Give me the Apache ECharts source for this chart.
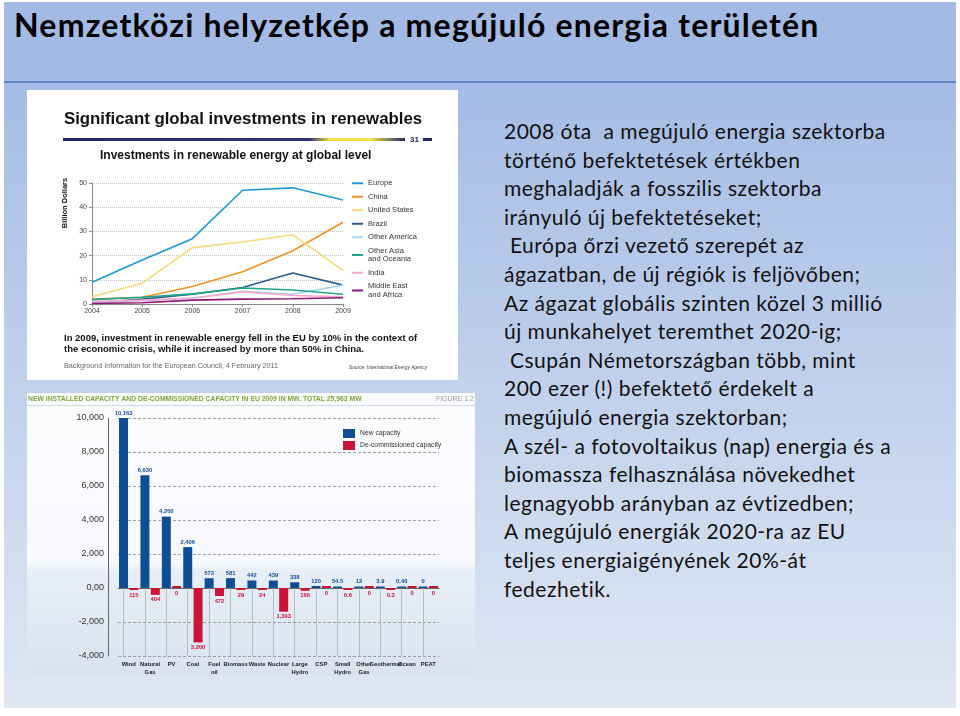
<!DOCTYPE html>
<html lang="hu">
<head>
<meta charset="UTF-8"/>
<script src="https://cdn.jsdelivr.net/npm/echarts@6/dist/echarts.min.js"></script>
<style>
    body { margin: 0; width: 960px; height: 716px; background: #ffffff; position: relative; overflow: hidden; }
    #slide { position: absolute; left: 4px; top: 2px; width: 952px; height: 706px;
        background: linear-gradient(to bottom, #a3bae4 0px, #a3bae4 79px, #6687c8 79px, #6687c8 81px, #a5bce5 81px, #dfe7f3 100%); }
    #title { position: absolute; left: 14px; top: 5px; font-family: Lato, sans-serif; font-weight: bold;
        font-size: 32px; letter-spacing: 1.2px; color: #000; white-space: nowrap; }
    #notes { position: absolute; left: 504px; top: 117px; font-family: Lato, sans-serif; font-size: 21px;
        letter-spacing: 0.5px; line-height: 28.6px; color: #111; white-space: pre; }
    #invest { position: absolute; left: 27px; top: 90px; width: 431px; height: 290px; background: #fff; }
    #capacity { position: absolute; left: 27px; top: 393px; width: 448px; height: 283px; }
</style>
</head>
<body>
<div id="slide"></div>
<div id="title">Nemzetközi helyzetkép a megújuló energia területén</div>
<div id="notes">2008 óta  a megújuló energia szektorba
történő befektetések értékben
meghaladják a fosszilis szektorba
irányuló új befektetéseket;
 Európa őrzi vezető szerepét az
ágazatban, de új régiók is feljövőben;
Az ágazat globális szinten közel 3 millió
új munkahelyet teremthet 2020-ig;
 Csupán Németországban több, mint
200 ezer (!) befektető érdekelt a
megújuló energia szektorban;
A szél- a fotovoltaikus (nap) energia és a
biomassza felhasználása növekedhet
legnagyobb arányban az évtizedben;
A megújuló energiák 2020-ra az EU
teljes energiaigényének 20%-át
fedezhetik.</div>
<div id="invest"></div>
<div id="capacity"></div>

<script type="text/javascript">
    // befektetések régiónként (milliárd dollár)
    var years = ['2004', '2005', '2006', '2007', '2008', '2009'];
    var europe = [9, 18.2, 27, 47, 48, 43];
    var china = [2, 2.8, 7.2, 13.3, 22, 33.8];
    var unitedStates = [3, 8.6, 23.3, 25.6, 28.6, 13.9];
    var brazil = [0.5, 2, 4, 6.8, 12.8, 7.8];
    var otherAmerica = [0.4, 1.4, 2.5, 5.3, 4, 7.8];
    var otherAsia = [1.8, 2.8, 4.2, 6.6, 5.8, 4];
    var india = [1, 1.6, 2.4, 5, 3.5, 3];
    var middleEast = [0.2, 0.5, 1.6, 2, 2.2, 2.6];

    // EU 2009 kapacitás (MW)
    var sources = ['Wind', 'Natural\nGas', 'PV', 'Coal', 'Fuel\noil', 'Biomass', 'Waste', 'Nuclear',
        'Large\nHydro', 'CSP', 'Small\nHydro', 'Other\nGas', 'Geothermal', 'Ocean', 'PEAT'];
    var newCapacity = [10163, 6630, 4200, 2406, 573, 581, 442, 439, 338, 120, 54.5, 12, 3.9, 0.4, 0];
    var decommissioned = [115, 404, 0, 3200, 472, 29, 24, 1393, 166, 0, 0.6, 0, 0.3, 0, 0];
    var newLabels = ['10,163', '6,630', '4,200', '2,406', '573', '581', '442', '439', '338', '120',
        '54.5', '12', '3.9', '0.40', '0'];
    var decomLabels = ['115', '404', '0', '3,200', '472', '29', '24', '1,393', '166', '0', '0.6', '0',
        '0.3', '0', '0'];

    DrawInvest();
    DrawCapacity();

    function lineSeries(name, data, color) {
        return {
            name: name, type: 'line', data: data, symbol: 'none',
            lineStyle: { width: 1.6, color: color }, itemStyle: { color: color }
        };
    }

    function DrawInvest() {
        var chart = echarts.init(document.getElementById('invest'));
        var options = {
            animation: false,
            grid: { left: 65, right: 115, top: 93, bottom: 76 },
            legend: {
                orient: 'vertical', left: 325, top: 89, padding: 0,
                itemWidth: 11, itemHeight: 2, itemGap: 5, icon: 'rect',
                textStyle: { fontSize: 7.6, color: '#333', lineHeight: 8.5, fontFamily: 'Liberation Sans' }
            },
            xAxis: {
                type: 'category', data: years, boundaryGap: false,
                axisLine: { lineStyle: { color: '#888', width: 1 } },
                axisTick: { show: true, length: 3, lineStyle: { color: '#888' } },
                axisLabel: { fontSize: 7, color: '#444', margin: 4, fontFamily: 'Liberation Sans' }
            },
            yAxis: {
                type: 'value', min: 0, max: 50, interval: 10,
                axisLine: { show: true, lineStyle: { color: '#888', width: 1 } },
                axisTick: { show: true, length: 3, lineStyle: { color: '#888' } },
                axisLabel: { fontSize: 7, color: '#444', margin: 5, fontFamily: 'Liberation Sans' },
                splitLine: { lineStyle: { color: '#c4c4c4', type: 'dotted', width: 1 } }
            },
            graphic: [
                { type: 'text', left: 37, top: 21, style: { text: 'Significant global investments in renewables',
                        font: 'bold 16.8px "Liberation Sans"', fill: '#111' } },
                { type: 'rect', shape: { x: 36, y: 48, width: 342, height: 3 },
                    style: { fill: new echarts.graphic.LinearGradient(0, 0, 1, 0, [
                            { offset: 0, color: '#23266a' }, { offset: 0.72, color: '#2e3278' },
                            { offset: 0.78, color: '#f1e048' }, { offset: 0.9, color: '#f1e048' },
                            { offset: 1, color: '#23266a' }]) } },
                { type: 'text', x: 383, y: 50, style: { text: '31', font: 'bold 8px "Liberation Sans"',
                        fill: '#23266a', verticalAlign: 'middle' } },
                { type: 'rect', shape: { x: 396, y: 48, width: 9, height: 3 }, style: { fill: '#23266a' } },
                { type: 'text', left: 73, top: 60, style: { text: 'Investments in renewable energy at global level',
                        font: 'bold 12px "Liberation Sans"', fill: '#111' } },
                { type: 'text', x: 38, y: 113, rotation: Math.PI / 2, style: { text: 'Billion Dollars',
                        font: 'bold 7.5px "Liberation Sans"', fill: '#111', align: 'center', verticalAlign: 'middle' } },
                { type: 'text', left: 37, top: 243, style: {
                        text: 'In 2009, investment in renewable energy fell in the EU by 10% in the context of\nthe economic crisis, while it increased by more than 50% in China.',
                        font: 'bold 9.5px "Liberation Sans"', lineHeight: 11, fill: '#111' } },
                { type: 'text', left: 37, top: 273, style: { text: 'Background Information for the European Council, 4 February 2011',
                        font: '7.2px "Liberation Sans"', fill: '#666' } },
                { type: 'text', left: 322, top: 275, style: { text: 'Source: International Energy Agency',
                        font: 'italic 4.8px "Liberation Sans"', fill: '#444' } }
            ],
            series: [
                lineSeries('Europe', europe, '#1c9ad0'),
                lineSeries('China', china, '#ef9226'),
                lineSeries('United States', unitedStates, '#f5d97c'),
                lineSeries('Brazil', brazil, '#2b5b8c'),
                lineSeries('Other America', otherAmerica, '#a9d4ee'),
                lineSeries('Other Asia\nand Oceania', otherAsia, '#1fa68a'),
                lineSeries('India', india, '#f3a9cb'),
                lineSeries('Middle East\nand Africa', middleEast, '#8c176d')
            ]
        };
        chart.setOption(options);
    }

    function DrawCapacity() {
        var chart = echarts.init(document.getElementById('capacity'));
        var guides = sources.map(function (c) {
            return [{ coord: [c, 0] }, { coord: [c, -4000] }];
        });
        var options = {
            animation: false,
            backgroundColor: new echarts.graphic.LinearGradient(0, 0, 0, 1, [
                { offset: 0, color: '#fbfcfe' }, { offset: 0.6, color: '#f7f9fc' },
                { offset: 0.63, color: '#e7eef6' }, { offset: 1, color: '#d9e3f0' }]),
            grid: { left: 91, right: 36, top: 25, bottom: 19 },
            legend: {
                orient: 'vertical', left: 316, top: 36, padding: 0,
                itemWidth: 12, itemHeight: 9, itemGap: 3, icon: 'rect',
                textStyle: { fontSize: 6.8, color: '#333', fontFamily: 'Liberation Sans' }
            },
            xAxis: {
                type: 'category', data: sources,
                axisLine: { lineStyle: { color: '#666', width: 1 } },
                axisTick: { show: false },
                axisLabel: { interval: 0, fontSize: 5.8, fontWeight: 'bold', color: '#222', lineHeight: 7.5,
                    margin: 5, fontFamily: 'Liberation Sans' }
            },
            yAxis: {
                type: 'value', min: -4000, max: 10000, interval: 2000, offset: 10,
                axisLine: { show: true, lineStyle: { color: '#666', width: 1 } },
                axisTick: { show: false },
                axisLabel: { fontSize: 9, color: '#333', margin: 4, fontFamily: 'Liberation Sans',
                    formatter: function (v) { return v === 0 ? '0,00' : v.toLocaleString('en-US'); } },
                splitLine: { lineStyle: { color: '#8a8a8a', type: [3, 2], width: 0.8 } }
            },
            graphic: [
                { type: 'text', left: 1, top: 3, style: {
                        text: 'NEW INSTALLED CAPACITY AND DE-COMMISSIONED CAPACITY IN EU 2009 IN MW. TOTAL 25,963 MW',
                        font: 'bold 6.8px "Liberation Sans"', fill: '#7ea63a' } },
                { type: 'text', right: 1, top: 3, style: { text: 'FIGURE 1.2', font: '7px "Liberation Sans"', fill: '#9a9a9a' } },
                { type: 'rect', shape: { x: 0, y: 12, width: 448, height: 1 }, style: { fill: '#d4d9e0' } }
            ],
            series: [
                {
                    name: 'New capacity', type: 'bar', data: newCapacity, barWidth: 9, barGap: '15%',
                    barMinHeight: 1.5,
                    itemStyle: { color: '#0f4e93' },
                    label: { show: true, position: 'top', distance: 2, fontSize: 5.8, fontWeight: 'bold',
                        color: '#0f4e93', fontFamily: 'Liberation Sans',
                        formatter: function (p) { return newLabels[p.dataIndex]; } },
                    markLine: { silent: true, symbol: 'none', label: { show: false },
                        lineStyle: { color: '#a8a8a8', width: 0.7, type: 'solid' }, data: guides }
                },
                {
                    name: 'De-commissioned capacity', type: 'bar', barWidth: 9, barMinHeight: 2,
                    data: decommissioned.map(function (v) { return -v; }),
                    itemStyle: { color: '#cc1236' },
                    label: { show: true, position: 'bottom', distance: 2, fontSize: 5.8, fontWeight: 'bold',
                        color: '#cc1236', fontFamily: 'Liberation Sans',
                        formatter: function (p) { return decomLabels[p.dataIndex]; } }
                }
            ]
        };
        chart.setOption(options);
    }
</script>
</body>
</html>
